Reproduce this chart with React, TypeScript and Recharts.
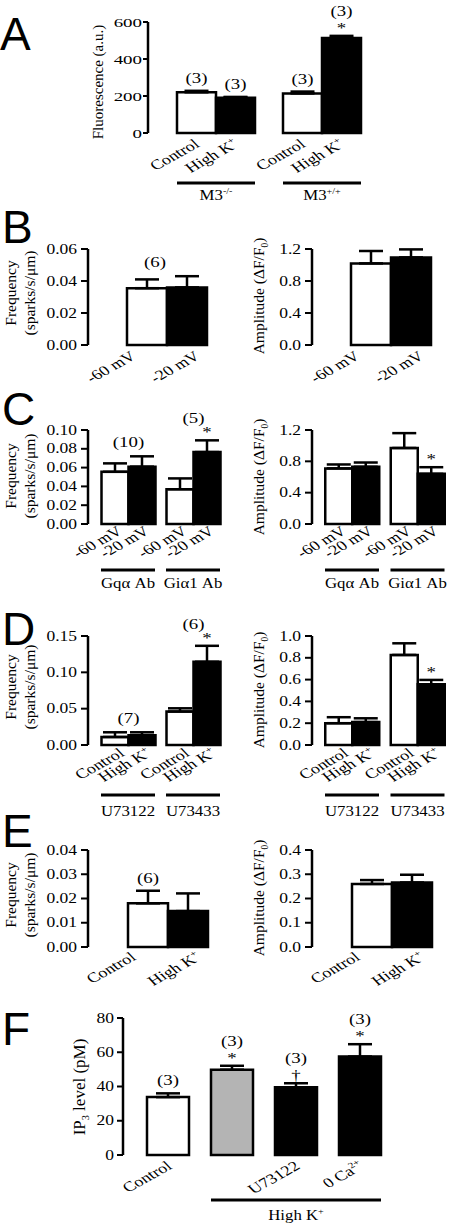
import { ComposedChart, Bar, XAxis, YAxis, ErrorBar, LabelList, Cell } from 'recharts'

const SERIF = '"Liberation Serif", "Times New Roman", Times, serif'
const SANS = '"Liberation Sans", Arial, Helvetica, sans-serif'
const PAGE_W = 452
const PAGE_H = 1224
const ROOM_TOP = 50
const ROOM_BOTTOM = 90
const Y_AXIS_W = 60
const WHITE = '#ffffff'
const BLACK = '#000000'
const GRAY = '#b4b4b4'

// text in the source figure is stretched sideways
const LBL_FS = 14
const LBL_SX = 1.3
const LBL_ROT = 36
const NOTE_FS = 14.5
const NOTE_SX = 1.3

// A - fluorescence, M3-/- vs M3+/+
const aGroups = ['M3^{-/-}', 'M3^{+/+}']
const aControl = [220, 214]
const aControlErr = [8, 10]
const aHighK = [191, 513]
const aHighKErr = [4, 12]
const aTicks = [0, 200, 400, 600]

const condLabels = ['Control', 'High K^{+}']
const voltLabels = ['-60 mV', '-20 mV']

// B - holding potential
const bFreqNeg60 = [0.0355]
const bFreqNeg60Err = [0.0055]
const bFreqNeg20 = [0.036]
const bFreqNeg20Err = [0.007]
const bFreqN = ['(6)']
const bAmpNeg60 = [1.02]
const bAmpNeg60Err = [0.155]
const bAmpNeg20 = [1.095]
const bAmpNeg20Err = [0.1]
const bFreqTicks = [0, 0.02, 0.04, 0.06]
const bAmpTicks = [0, 0.4, 0.8, 1.2]

// C - G protein antibodies
const cGroups = ['Gqα Ab', 'Giα1 Ab']
const cFreqNeg60 = [0.0555, 0.037]
const cFreqNeg60Err = [0.009, 0.0115]
const cFreqNeg20 = [0.061, 0.0765]
const cFreqNeg20Err = [0.011, 0.0125]
const cFreqN = ['(10)', '(5)']
const cFreqSig = ['', '*']
const cAmpNeg60 = [0.71, 0.97]
const cAmpNeg60Err = [0.05, 0.19]
const cAmpNeg20 = [0.73, 0.64]
const cAmpNeg20Err = [0.055, 0.085]
const cAmpSig = ['', '*']
const cFreqTicks = [0, 0.02, 0.04, 0.06, 0.08, 0.1]
const cAmpTicks = [0, 0.4, 0.8, 1.2]

// D - PLC inhibitor
const dGroups = ['U73122', 'U73433']
const dFreqControl = [0.011, 0.046]
const dFreqControlErr = [0.0065, 0.0045]
const dFreqHighK = [0.0135, 0.1145]
const dFreqHighKErr = [0.004, 0.022]
const dFreqN = ['(7)', '(6)']
const dFreqSig = ['', '*']
const dAmpControl = [0.2, 0.826]
const dAmpControlErr = [0.055, 0.107]
const dAmpHighK = [0.21, 0.557]
const dAmpHighKErr = [0.035, 0.04]
const dAmpSig = ['', '*']
const dFreqTicks = [0, 0.05, 0.1, 0.15]
const dAmpTicks = [0, 0.2, 0.4, 0.6, 0.8, 1.0]

// E
const eFreqControl = [0.018]
const eFreqControlErr = [0.0052]
const eFreqHighK = [0.0148]
const eFreqHighKErr = [0.0073]
const eFreqN = ['(6)']
const eAmpControl = [0.26]
const eAmpControlErr = [0.016]
const eAmpHighK = [0.266]
const eAmpHighKErr = [0.032]
const eFreqTicks = [0, 0.01, 0.02, 0.03, 0.04]
const eAmpTicks = [0, 0.1, 0.2, 0.3, 0.4]

// F - IP3
const fConditions = ['Control', 'High K+', 'High K+ U73122', 'High K+ 0 Ca2+']
const fLabels = ['Control', '', 'U73122', '0 Ca^{2+}']
const fIP3 = [33.8, 49.8, 39.5, 57.5]
const fIP3Err = [2.2, 2.3, 2.4, 7.2]
const fN = ['(3)', '(3)', '(3)', '(3)']
const fSig = ['', '*', '†', '*']
const fFills = [WHITE, GRAY, BLACK, BLACK]
const fTicks = [0, 20, 40, 60, 80]

type Series = {
  values: number[]
  errs: number[]
  fills: string[]
  labels: string[]
  notes?: string[]
  sigs?: string[]
}

type Cfg = {
  top: number
  bottom: number
  axisX: number
  padLeft: number
  band: number
  barW: number
  gap: number
  yMax: number
  ticks: number[]
  decimals: number
  tickLen: number
  tickMargin: number
  tickFs: number
  tickSx: number
  lblDx: number
  lblDy: number
  cats: string[]
  series: Series[]
  groupNotes?: string[]
  groupLine?: { dy: number; labelDy: number; labels: string[] }
  span?: { index: number; half: number; dy: number; labelDy: number; label: string }
}

function rich(s: string, fs: number) {
  const parts = s.split(/(\^\{[^}]*\}|_\{[^}]*\})/).filter(Boolean)
  let shift = 0
  return parts.map((p, i) => {
    let target = 0
    let size = fs
    let txt = p
    if (p.startsWith('^{')) {
      target = -fs * 0.4
      size = fs * 0.6
      txt = p.slice(2, -1)
    } else if (p.startsWith('_{')) {
      target = fs * 0.25
      size = fs * 0.6
      txt = p.slice(2, -1)
    }
    const dy = target - shift
    shift = target
    return (
      <tspan key={i} dy={dy} fontSize={size}>
        {txt}
      </tspan>
    )
  })
}

const fill = (n: number, color: string) => Array.from({ length: n }, () => color)

function Panel({ c }: { c: Cfg }) {
  const plotH = c.bottom - c.top
  const baseY = ROOM_TOP + plotH
  const nS = c.series.length
  const total = nS * c.barW + (nS - 1) * c.gap
  const offs = c.series.map((_, k) => -total / 2 + c.barW / 2 + k * (c.barW + c.gap))
  const plotRight = c.axisX + c.padLeft + c.cats.length * c.band
  const data = c.cats.map((cat, i) => {
    const row: Record<string, unknown> = { cat }
    c.series.forEach((s, k) => {
      row[`v${k}`] = s.values[i]
      row[`e${k}`] = [0, s.errs[i]]
    })
    return row
  })

  const wide = (x: number, y: number, sx: number) => `translate(${x},${y}) scale(${sx},1)`

  const xTick = (p: any) => {
    const i = p.index ?? 0
    const cx = p.x
    return (
      <g>
        {c.series.map((s, k) =>
          s.labels[i] ? (
            <text
              key={k}
              transform={`translate(${cx + offs[k] + c.lblDx},${baseY + c.lblDy}) scale(${LBL_SX},1) rotate(${-LBL_ROT})`}
              textAnchor="end"
              fontFamily={SERIF}
              fontSize={LBL_FS}
              fill={BLACK}
            >
              {rich(s.labels[i], LBL_FS)}
            </text>
          ) : null,
        )}
        {c.groupLine && (
          <g>
            <line
              x1={cx - total / 2}
              x2={cx + total / 2}
              y1={baseY + c.groupLine.dy}
              y2={baseY + c.groupLine.dy}
              stroke={BLACK}
              strokeWidth={3}
            />
            <text
              transform={wide(cx, baseY + c.groupLine.labelDy, 1.2)}
              textAnchor="middle"
              fontFamily={SERIF}
              fontSize={14}
              fill={BLACK}
            >
              {rich(c.groupLine.labels[i], 14)}
            </text>
          </g>
        )}
        {c.span && c.span.index === i && (
          <g>
            <line
              x1={cx - c.span.half}
              x2={cx + c.span.half}
              y1={baseY + c.span.dy}
              y2={baseY + c.span.dy}
              stroke={BLACK}
              strokeWidth={3}
            />
            <text
              transform={wide(cx, baseY + c.span.labelDy, 1.2)}
              textAnchor="middle"
              fontFamily={SERIF}
              fontSize={14}
              fill={BLACK}
            >
              {rich(c.span.label, 14)}
            </text>
          </g>
        )}
      </g>
    )
  }

  const yTick = (p: any) => (
    <text
      transform={wide(p.x, p.y + 4.5, c.tickSx)}
      textAnchor="end"
      fontFamily={SERIF}
      fontSize={c.tickFs}
      fill={BLACK}
    >
      {Number(p.payload.value).toFixed(c.decimals)}
    </text>
  )

  const notes = (p: any, k: number) => {
    const vb = p.viewBox ?? p
    const i = p.index
    const s = c.series[k]
    if (vb == null || i == null || !s.values[i]) return null
    const ppu = vb.height / s.values[i]
    const base = vb.y + vb.height
    const yAt = (v: number) => base - v * ppu
    const cx = vb.x + vb.width / 2
    const errTop = yAt(s.values[i] + s.errs[i])
    const sig = s.sigs?.[i]
    const note = s.notes?.[i]
    const out = []
    if (sig) {
      out.push(
        <text key="s" transform={wide(cx, errTop - 3, NOTE_SX)} textAnchor="middle" fontFamily={SERIF} fontSize={NOTE_FS} fill={BLACK}>
          {sig}
        </text>,
      )
    }
    if (note) {
      out.push(
        <text key="n" transform={wide(cx, errTop - (sig ? 20 : 8), NOTE_SX)} textAnchor="middle" fontFamily={SERIF} fontSize={NOTE_FS} fill={BLACK}>
          {note}
        </text>,
      )
    }
    const gNote = c.groupNotes?.[i]
    if (k === nS - 1 && gNote) {
      const gx = cx - offs[k]
      const tops = c.series.map((q) => yAt(q.values[i] + q.errs[i]))
      const anySig = c.series.some((q) => q.sigs?.[i])
      out.push(
        <text key="g" transform={wide(gx, Math.min(...tops) - (anySig ? 17 : 9), NOTE_SX)} textAnchor="middle" fontFamily={SERIF} fontSize={NOTE_FS} fill={BLACK}>
          {gNote}
        </text>,
      )
    }
    return <g>{out}</g>
  }

  return (
    <div style={{ position: 'absolute', left: 0, top: c.top - ROOM_TOP }}>
      <ComposedChart
        width={PAGE_W}
        height={ROOM_TOP + plotH + ROOM_BOTTOM}
        data={data}
        margin={{ top: ROOM_TOP, right: PAGE_W - plotRight, bottom: 0, left: c.axisX - Y_AXIS_W }}
        barGap={c.gap}
        barSize={c.barW}
      >
        <XAxis
          dataKey="cat"
          height={ROOM_BOTTOM}
          padding={{ left: c.padLeft, right: 0 }}
          axisLine={false}
          tickLine={false}
          tickSize={0}
          tickMargin={0}
          interval={0}
          tick={xTick}
        />
        <YAxis
          width={Y_AXIS_W}
          type="number"
          domain={[0, c.yMax]}
          ticks={c.ticks}
          interval={0}
          axisLine={{ stroke: BLACK, strokeWidth: 2.5 }}
          tickLine={{ stroke: BLACK, strokeWidth: 2 }}
          tickSize={c.tickLen}
          tickMargin={c.tickMargin}
          tick={yTick}
        />
        {c.series.map((s, k) => (
          <Bar key={k} dataKey={`v${k}`} stroke={BLACK} strokeWidth={2.5} isAnimationActive={false}>
            {c.cats.map((_, i) => (
              <Cell key={i} fill={s.fills[i]} />
            ))}
            <ErrorBar dataKey={`e${k}`} direction="y" width={12} stroke={BLACK} strokeWidth={2.5} />
            <LabelList dataKey={`v${k}`} content={(p: any) => notes(p, k)} />
          </Bar>
        ))}
      </ComposedChart>
    </div>
  )
}

const leftFreq = { axisX: 88, tickLen: 7, tickMargin: 4, tickFs: 14, tickSx: 1.25, decimals: 2 }
const rightAmp = { axisX: 312, tickLen: 7, tickMargin: 4, tickFs: 14, tickSx: 1.25, decimals: 1 }
const pairWide = { padLeft: 27, band: 104, barW: 40, gap: 24 }

const panels: Cfg[] = [
  {
    top: 22, bottom: 133, axisX: 148, padLeft: 15, band: 106, barW: 39, gap: 0,
    yMax: 600, ticks: aTicks, decimals: 0, tickLen: 5, tickMargin: 1, tickFs: 13.5, tickSx: 1.4,
    lblDx: 4, lblDy: 13, cats: aGroups,
    series: [
      { values: aControl, errs: aControlErr, fills: fill(2, WHITE), labels: fill(2, condLabels[0]), notes: ['(3)', '(3)'] },
      { values: aHighK, errs: aHighKErr, fills: fill(2, BLACK), labels: fill(2, condLabels[1]), notes: ['(3)', '(3)'], sigs: ['', '*'] },
    ],
    groupLine: { dy: 50, labelDy: 67, labels: aGroups },
  },
  {
    ...leftFreq, ...pairWide, top: 249, bottom: 345, yMax: 0.06, ticks: bFreqTicks,
    lblDx: 2, lblDy: 13, cats: ['B'], groupNotes: bFreqN,
    series: [
      { values: bFreqNeg60, errs: bFreqNeg60Err, fills: [WHITE], labels: [voltLabels[0]] },
      { values: bFreqNeg20, errs: bFreqNeg20Err, fills: [BLACK], labels: [voltLabels[1]] },
    ],
  },
  {
    ...rightAmp, ...pairWide, top: 249, bottom: 345, yMax: 1.2, ticks: bAmpTicks,
    lblDx: 2, lblDy: 13, cats: ['B'],
    series: [
      { values: bAmpNeg60, errs: bAmpNeg60Err, fills: [WHITE], labels: [voltLabels[0]] },
      { values: bAmpNeg20, errs: bAmpNeg20Err, fills: [BLACK], labels: [voltLabels[1]] },
    ],
  },
  {
    ...leftFreq, padLeft: 7.5, band: 65, barW: 27, gap: 0, top: 430, bottom: 524, yMax: 0.1, ticks: cFreqTicks,
    lblDx: 9, lblDy: 9, cats: cGroups, groupNotes: cFreqN,
    series: [
      { values: cFreqNeg60, errs: cFreqNeg60Err, fills: fill(2, WHITE), labels: fill(2, voltLabels[0]) },
      { values: cFreqNeg20, errs: cFreqNeg20Err, fills: fill(2, BLACK), labels: fill(2, voltLabels[1]), sigs: cFreqSig },
    ],
    groupLine: { dy: 46, labelDy: 64, labels: cGroups },
  },
  {
    ...rightAmp, padLeft: 7.25, band: 65.5, barW: 27, gap: 0, top: 430, bottom: 524, yMax: 1.2, ticks: cAmpTicks,
    lblDx: 9, lblDy: 9, cats: cGroups,
    series: [
      { values: cAmpNeg60, errs: cAmpNeg60Err, fills: fill(2, WHITE), labels: fill(2, voltLabels[0]) },
      { values: cAmpNeg20, errs: cAmpNeg20Err, fills: fill(2, BLACK), labels: fill(2, voltLabels[1]), sigs: cAmpSig },
    ],
    groupLine: { dy: 46, labelDy: 64, labels: cGroups },
  },
  {
    ...leftFreq, padLeft: 7.5, band: 65, barW: 27, gap: 0, top: 636, bottom: 745, yMax: 0.15, ticks: dFreqTicks,
    lblDx: 11, lblDy: 10, cats: dGroups, groupNotes: dFreqN,
    series: [
      { values: dFreqControl, errs: dFreqControlErr, fills: fill(2, WHITE), labels: fill(2, condLabels[0]) },
      { values: dFreqHighK, errs: dFreqHighKErr, fills: fill(2, BLACK), labels: fill(2, condLabels[1]), sigs: dFreqSig },
    ],
    groupLine: { dy: 50, labelDy: 71, labels: dGroups },
  },
  {
    ...rightAmp, padLeft: 7.25, band: 65.5, barW: 27, gap: 0, top: 636, bottom: 745, yMax: 1.0, ticks: dAmpTicks,
    lblDx: 11, lblDy: 10, cats: dGroups,
    series: [
      { values: dAmpControl, errs: dAmpControlErr, fills: fill(2, WHITE), labels: fill(2, condLabels[0]) },
      { values: dAmpHighK, errs: dAmpHighKErr, fills: fill(2, BLACK), labels: fill(2, condLabels[1]), sigs: dAmpSig },
    ],
    groupLine: { dy: 50, labelDy: 71, labels: dGroups },
  },
  {
    ...leftFreq, padLeft: 27, band: 105, barW: 40, gap: 25, top: 850, bottom: 947, yMax: 0.04, ticks: eFreqTicks,
    lblDx: 2, lblDy: 12, cats: ['E'],
    series: [
      { values: eFreqControl, errs: eFreqControlErr, fills: [WHITE], labels: [condLabels[0]], notes: eFreqN },
      { values: eFreqHighK, errs: eFreqHighKErr, fills: [BLACK], labels: [condLabels[1]] },
    ],
  },
  {
    ...rightAmp, padLeft: 27, band: 105, barW: 40, gap: 25, top: 850, bottom: 947, yMax: 0.4, ticks: eAmpTicks,
    lblDx: 2, lblDy: 12, cats: ['E'],
    series: [
      { values: eAmpControl, errs: eAmpControlErr, fills: [WHITE], labels: [condLabels[0]] },
      { values: eAmpHighK, errs: eAmpHighKErr, fills: [BLACK], labels: [condLabels[1]] },
    ],
  },
  {
    top: 1018, bottom: 1155, axisX: 123, padLeft: 13, band: 64, barW: 42, gap: 0,
    yMax: 80, ticks: fTicks, decimals: 0, tickLen: 6, tickMargin: 3, tickFs: 14, tickSx: 1.25,
    lblDx: 5, lblDy: 13, cats: fConditions,
    series: [{ values: fIP3, errs: fIP3Err, fills: fFills, labels: fLabels, notes: fN, sigs: fSig }],
    span: { index: 2, half: 64 + 21, dy: 45, labelDy: 65, label: 'High K^{+}' },
  },
]

const letters = [
  { t: 'A', x: 0, y: 50 },
  { t: 'B', x: 2, y: 243 },
  { t: 'C', x: 2, y: 425 },
  { t: 'D', x: 2, y: 645 },
  { t: 'E', x: 2, y: 847 },
  { t: 'F', x: 2, y: 1045 },
]

const yTitles = [
  { t: 'Fluorescence (a.u.)', x: 103, y: 82, fs: 15 },
  { t: 'Frequency', x: 16, y: 293, fs: 15.5 },
  { t: '(sparks/s/μm)', x: 35, y: 293, fs: 15.5 },
  { t: 'Amplitude (ΔF/F_{0})', x: 264, y: 296, fs: 15.5 },
  { t: 'Frequency', x: 16, y: 476, fs: 15.5 },
  { t: '(sparks/s/μm)', x: 35, y: 476, fs: 15.5 },
  { t: 'Amplitude (ΔF/F_{0})', x: 264, y: 477, fs: 15.5 },
  { t: 'Frequency', x: 16, y: 687, fs: 15.5 },
  { t: '(sparks/s/μm)', x: 35, y: 687, fs: 15.5 },
  { t: 'Amplitude (ΔF/F_{0})', x: 264, y: 690, fs: 15.5 },
  { t: 'Frequency', x: 16, y: 895, fs: 15.5 },
  { t: '(sparks/s/μm)', x: 35, y: 895, fs: 15.5 },
  { t: 'Amplitude (ΔF/F_{0})', x: 264, y: 898, fs: 15.5 },
  { t: 'IP_{3} level (pM)', x: 85, y: 1087, fs: 17 },
]

export default function App() {
  return (
    <div style={{ position: 'relative', width: PAGE_W, height: PAGE_H, background: WHITE, overflow: 'hidden' }}>
      <style>{'body{margin:0}'}</style>
      {panels.map((c, i) => (
        <Panel key={i} c={c} />
      ))}
      <svg width={PAGE_W} height={PAGE_H} style={{ position: 'absolute', left: 0, top: 0, pointerEvents: 'none' }}>
        {letters.map((l) => (
          <text key={l.t} x={l.x} y={l.y} fontFamily={SANS} fontSize={46} fill={BLACK}>
            {l.t}
          </text>
        ))}
        {yTitles.map((t, i) => (
          <text
            key={i}
            transform={`translate(${t.x},${t.y}) rotate(-90)`}
            textAnchor="middle"
            fontFamily={SERIF}
            fontSize={t.fs}
            fill={BLACK}
          >
            {rich(t.t, t.fs)}
          </text>
        ))}
      </svg>
    </div>
  )
}
